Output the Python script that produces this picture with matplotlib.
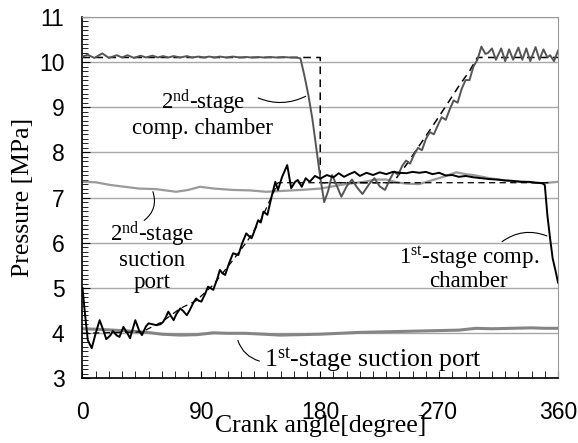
"""Pressure vs crank angle for a two-stage compressor."""

import matplotlib
matplotlib.use("Agg")
import matplotlib.pyplot as plt
from matplotlib.ticker import MultipleLocator

# 2nd-stage compression chamber (measured)
deg_2c = [0, 4, 9, 15, 20, 26, 30, 34, 39, 44, 48, 53, 57, 61, 65, 69, 74, 79, 83, 88,
          92, 96, 100, 104, 109, 114, 119, 124, 128, 133, 137, 142, 147, 152, 157, 162,
          165, 168, 171, 174, 177, 180, 183, 186, 189, 192, 196, 200, 204, 208, 212, 217,
          221, 225, 229, 233, 236, 239, 242, 245, 248, 251, 254, 257, 260, 263, 266, 269,
          272, 275, 278, 281, 284, 287, 290, 293, 296, 299, 302, 305, 307, 310, 313, 317,
          320, 323, 326, 330, 333, 336, 339, 343, 346, 349, 352, 354, 357, 360]
p_2c = [10.12, 10.16, 10.09, 10.19, 10.09, 10.15, 10.1, 10.15, 10.09, 10.14, 10.1, 10.14,
        10.1, 10.13, 10.1, 10.13, 10.1, 10.13, 10.1, 10.12, 10.1, 10.12, 10.1, 10.12,
        10.1, 10.12, 10.1, 10.11, 10.1, 10.11, 10.1, 10.11, 10.1, 10.11, 10.1, 10.1,
        10.08, 9.7, 9.27, 8.75, 8.1, 7.45, 6.9, 7.15, 7.5, 7.3, 7.02, 7.25, 7.4, 7.22, 7.08,
        7.3, 7.43, 7.25, 7.17, 7.42, 7.58, 7.5, 7.7, 7.82, 7.75, 7.95, 8.1, 8.05, 8.3, 8.45,
        8.4, 8.6, 8.78, 8.72, 8.95, 9.15, 9.1, 9.4, 9.6, 9.6, 9.9, 10.05, 10.34, 10.18, 10.2,
        10.3, 10.05, 10.3, 10.02, 10.28, 10.05, 10.32, 10.05, 10.3, 10.02, 10.33, 10.05,
        10.28, 10.1, 10.15, 10.02, 10.25]

# 1st-stage compression chamber (measured)
deg_1c = [0, 2, 4, 7, 10, 13, 16, 18, 21, 23, 26, 28, 31, 34, 36, 40, 43, 45, 48, 50, 53,
          56, 59, 61, 63, 65, 67, 69, 71, 74, 76, 79, 81, 84, 86, 88, 90, 93, 95, 97, 99,
          102, 104, 106, 108, 111, 114, 116, 118, 121, 124, 126, 128, 130, 133, 135, 137,
          140, 143, 146, 148, 151, 155, 158, 161, 163, 166, 169, 172, 176, 180, 185, 190,
          194, 198, 202, 206, 210, 215, 220, 225, 230, 235, 240, 245, 250, 255, 260, 265,
          270, 275, 280, 285, 290, 296, 302, 308, 314, 320, 326, 332, 338, 343, 348, 350,
          352, 354, 356, 358, 360]
p_1c = [5.0, 4.4, 3.85, 3.67, 4.0, 4.29, 4.05, 3.87, 3.95, 4.05, 3.95, 3.92, 4.14, 4.0, 3.89,
        4.29, 4.05, 3.96, 4.15, 4.22, 4.2, 4.18, 4.2, 4.25, 4.35, 4.48, 4.38, 4.29, 4.42,
        4.55, 4.5, 4.4, 4.5, 4.68, 4.77, 4.72, 4.7, 4.88, 5.03, 5.0, 4.96, 5.2, 5.4, 5.33,
        5.29, 5.55, 5.77, 5.75, 5.73, 6.0, 6.21, 6.15, 6.1, 6.25, 6.5, 6.45, 6.69, 6.62, 7.0,
        7.35, 7.17, 7.45, 7.72, 7.21, 7.35, 7.39, 7.24, 7.43, 7.35, 7.48, 7.42, 7.5, 7.45,
        7.54, 7.46, 7.52, 7.57, 7.48, 7.55, 7.5, 7.56, 7.52, 7.57, 7.55, 7.54, 7.57, 7.55,
        7.57, 7.52, 7.55, 7.49, 7.5, 7.46, 7.48, 7.45, 7.43, 7.41, 7.4, 7.38, 7.37, 7.35,
        7.35, 7.33, 7.32, 7.28, 6.6, 6.1, 5.65, 5.4, 5.12]

# 2nd-stage suction port
deg_2s = [0, 10, 21, 32, 43, 55, 71, 80, 89, 100, 114, 127, 139, 152, 165, 180, 195, 205,
          213, 222, 230, 238, 245, 255, 263, 272, 283, 290, 296, 308, 320, 334, 349, 360]
p_2s = [7.35, 7.34, 7.28, 7.24, 7.2, 7.19, 7.13, 7.17, 7.24, 7.2, 7.17, 7.16, 7.13, 7.15,
        7.17, 7.2, 7.28, 7.32, 7.35, 7.4, 7.4, 7.34, 7.31, 7.3, 7.37, 7.45, 7.56, 7.52, 7.5,
        7.43, 7.38, 7.35, 7.32, 7.35]

# 1st-stage suction port
deg_1s = [0, 10, 23, 35, 49, 60, 74, 87, 99, 110, 123, 137, 150, 165, 180, 195, 210, 225,
          240, 255, 270, 285, 298, 310, 325, 340, 350, 360]
p_1s = [4.1, 4.09, 4.07, 4.05, 4.02, 3.98, 3.96, 3.97, 4.01, 4.0, 4.0, 3.98, 3.96, 3.97,
        3.98, 4.0, 4.02, 4.03, 4.04, 4.05, 4.06, 4.07, 4.11, 4.1, 4.11, 4.12, 4.11, 4.11]

# theoretical curves (dashed)
deg_th2 = [0, 180, 180, 235, 245, 255, 265, 275, 285, 293, 299, 360]
p_th2 = [10.1, 10.1, 7.33, 7.33, 7.72, 8.15, 8.58, 9.02, 9.47, 9.8, 10.1, 10.1]
deg_th1 = [0, 45, 60, 74, 86, 99, 114, 125, 135, 142, 148, 355]
p_th1 = [4.0, 4.03, 4.25, 4.55, 4.72, 5.07, 5.62, 6.05, 6.5, 6.95, 7.33, 7.33]

SERIF = "Liberation Serif"
plt.rcParams["font.family"] = "Liberation Sans"
plt.rcParams["mathtext.fontset"] = "custom"
plt.rcParams["mathtext.rm"] = SERIF
plt.rcParams["mathtext.it"] = SERIF + ":italic"

fig = plt.figure(figsize=(5.78, 4.43), dpi=100)
ax = fig.add_axes([0.1427, 0.1456, 0.8227, 0.8165])

ax.grid(axis="y", color="#a8a8a8", lw=1.0)
ax.set_axisbelow(True)

dash = (0, (5, 3.5))
ax.plot(deg_th2, p_th2, color="black", lw=1.1, ls=dash, zorder=3)
ax.plot(deg_th1, p_th1, color="black", lw=0.9, ls=dash, zorder=3)
ax.plot(deg_1s, p_1s, color="#858585", lw=2.2, zorder=2)
ax.plot(deg_2s, p_2s, color="#9a9a9a", lw=1.6, zorder=2)
ax.plot(deg_2c, p_2c, color="#555555", lw=1.4, zorder=4, solid_joinstyle="round")
ax.plot(deg_1c, p_1c, color="black", lw=1.4, zorder=4, solid_joinstyle="round")

ax.set_xlim(0, 360)
ax.set_ylim(3, 11)
ax.xaxis.set_major_locator(MultipleLocator(90))
ax.xaxis.set_minor_locator(MultipleLocator(10))
ax.yaxis.set_major_locator(MultipleLocator(1))
ax.yaxis.set_minor_locator(MultipleLocator(0.1))
ax.tick_params(axis="both", which="both", direction="in", labelsize=16.5, color="black")
ax.tick_params(axis="x", which="major", length=5, pad=16)
ax.tick_params(axis="x", which="minor", length=5)
ax.tick_params(axis="y", which="major", length=6, pad=13)
ax.tick_params(axis="y", which="minor", length=4)
for side in ("top", "right"):
    ax.spines[side].set_color("#9a9a9a")
for side in ("left", "bottom"):
    ax.spines[side].set_color("black")
    ax.spines[side].set_linewidth(1.2)

ax.set_xlabel("Crank angle[degree]", family=SERIF, fontsize=18.5)
ax.set_ylabel("Pressure [MPa]", family=SERIF, fontsize=18.5)
ax.xaxis.set_label_coords(0.5, -0.1)
ax.yaxis.set_label_coords(-0.102, 0.5)

# labels with leader lines
lead = dict(arrowstyle="-", color="black", lw=0.8)
ax.text(91, 8.87, "2$^{\\mathrm{nd}}$-stage\ncomp. chamber", family=SERIF, fontsize=16.5,
        ha="center", va="center", linespacing=1.05)
ax.annotate("", xy=(170.8, 9.27), xytext=(131, 9.23),
            arrowprops=dict(lead, connectionstyle="arc3,rad=0.25"))
ax.text(52.5, 5.71, "2$^{\\mathrm{nd}}$-stage\nsuction\nport", family=SERIF, fontsize=16.5,
        ha="center", va="center", linespacing=1.05)
ax.annotate("", xy=(52.6, 7.19), xytext=(45, 6.46),
            arrowprops=dict(lead, connectionstyle="arc3,rad=0.4"))
ax.text(292.5, 5.44, "1$^{\\mathrm{st}}$-stage comp.\nchamber", family=SERIF, fontsize=16.5,
        ha="center", va="center", linespacing=0.95)
ax.annotate("", xy=(353.5, 6.13), xytext=(316, 5.99),
            arrowprops=dict(lead, connectionstyle="arc3,rad=-0.3"))
ax.text(219.5, 3.42, "1$^{\\mathrm{st}}$-stage suction port", family=SERIF, fontsize=18.5,
        ha="center", va="center")
ax.annotate("", xy=(117, 3.9), xytext=(136, 3.37),
            arrowprops=dict(lead, connectionstyle="arc3,rad=-0.3"))

fig.savefig("out.png", dpi=100)
plt.close(fig)
